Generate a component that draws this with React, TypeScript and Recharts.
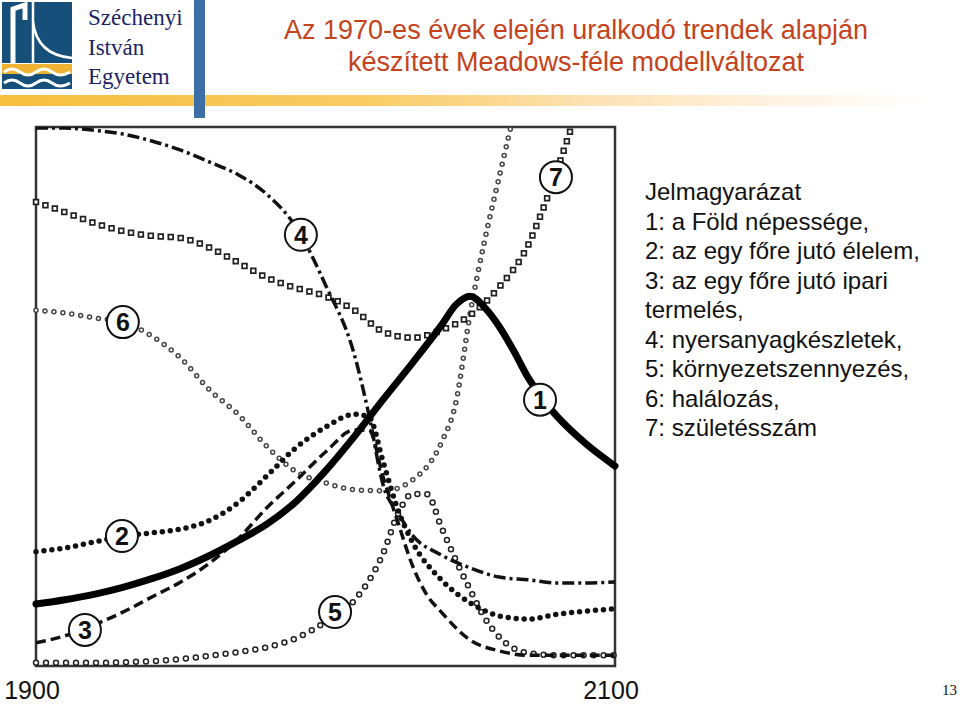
import React from 'react';
import { LineChart, Line, XAxis, YAxis, ReferenceArea, ReferenceDot } from 'recharts';

// [year, value] pairs, value on a 0-100 relative scale
const population: [number, number][] = [
    [1900, 11.5], [1910, 12.3], [1920, 13.3], [1930, 14.6], [1940, 16.2], [1950, 18.1],
    [1960, 20.5], [1970, 23.3], [1980, 26.4], [1990, 30.6], [2000, 36.2], [2010, 42.6],
    [2020, 49.5], [2030, 56.2], [2040, 63.2], [2045, 67], [2050, 68.6], [2055, 66.5],
    [2060, 63], [2065, 58.5], [2070, 53.5], [2075, 49.5], [2080, 46.3], [2090, 41.2], [2100, 37.1],
];
const foodPerCapita: [number, number][] = [
    [1900, 21.2], [1910, 21.9], [1920, 23], [1930, 24.1], [1940, 24.7], [1950, 25.4],
    [1960, 27], [1970, 30.4], [1980, 35.4], [1990, 40.6], [2000, 44.3], [2010, 46.7],
    [2015, 46.2], [2020, 37.7], [2025, 29], [2030, 23], [2040, 16], [2050, 11.7],
    [2060, 9.3], [2070, 8.7], [2080, 9.6], [2090, 10.2], [2100, 10.6],
];
const industryPerCapita: [number, number][] = [
    [1900, 4.3], [1910, 5.6], [1920, 7.6], [1930, 10], [1940, 12.8], [1950, 15.6],
    [1960, 19.1], [1970, 23.7], [1980, 29.5], [1990, 34.5], [2000, 39.7], [2010, 43.8],
    [2015, 43.8], [2020, 34.9], [2025, 26.7], [2030, 18.7], [2035, 13.2], [2040, 10],
    [2050, 4.8], [2060, 2.8], [2070, 2], [2080, 2], [2090, 2], [2100, 2],
];
const resources: [number, number][] = [
    [1900, 99.8], [1910, 99.8], [1920, 99.4], [1930, 98.7], [1940, 97.4], [1950, 95.7],
    [1960, 93.5], [1970, 91.1], [1980, 87.4], [1990, 81.3], [2000, 70.7], [2010, 57.7],
    [2015, 46.6], [2020, 33.4], [2025, 28.4], [2030, 24.3], [2040, 20.6], [2050, 18.2],
    [2060, 16.5], [2070, 16], [2080, 15.4], [2090, 15.4], [2100, 15.6],
];
const pollution: [number, number][] = [
    [1900, 0.6], [1910, 0.6], [1920, 0.6], [1930, 0.7], [1940, 0.9], [1950, 1.3],
    [1960, 1.9], [1970, 2.6], [1980, 3.5], [1990, 5.2], [2000, 8.2], [2010, 12.2],
    [2020, 21], [2025, 28.2], [2030, 31.9], [2035, 31.9], [2040, 25.8], [2045, 19.7],
    [2050, 14.1], [2055, 8.9], [2060, 5.4], [2070, 2.4], [2080, 2], [2090, 2], [2100, 2],
];
const deathRate: [number, number][] = [
    [1900, 66], [1910, 65.5], [1920, 64.6], [1930, 63.8], [1940, 61.2], [1950, 57.1],
    [1960, 51.2], [1970, 46.6], [1980, 40.6], [1990, 36], [2000, 34], [2010, 32.7],
    [2020, 32.5], [2030, 34.5], [2040, 41.4], [2045, 48.8], [2050, 65.5], [2055, 79],
    [2060, 90.7], [2064, 100],
];
const birthRate: [number, number][] = [
    [1900, 86.1], [1910, 84.2], [1920, 82.2], [1930, 80.7], [1940, 79.8], [1950, 79.4],
    [1960, 77.6], [1970, 74.8], [1980, 72], [1990, 70.1], [2000, 68.6], [2010, 66],
    [2020, 62], [2030, 60.9], [2040, 62.3], [2050, 65.1], [2060, 70.3], [2070, 78.1],
    [2075, 84.6], [2080, 92], [2085, 100],
];

// circled series numbers: [number, year, value]
const badges: [string, number, number][] = [
    ['1', 2074.1, 49.4], ['2', 1929.7, 24.1], ['3', 1916.9, 6.7], ['4', 1991.5, 80],
    ['5', 2003.3, 10], ['6', 1930, 63.8], ['7', 2079.6, 90.7],
];

const yearTicks = [1900, 2100];

const legendLines = [
    'Jelmagyarázat',
    '1: a Föld népessége,',
    '2: az egy főre jutó élelem,',
    '3: az egy főre jutó ipari',
    'termelés,',
    '4: nyersanyagkészletek,',
    '5: környezetszennyezés,',
    '6: halálozás,',
    '7: születésszám',
];

const toRows = (pts: [number, number][]) => pts.map(([year, v]) => ({ year, v }));

const Badge = (props: any) => {
    const { cx, cy, label } = props;
    return (
        <g>
            <circle cx={cx} cy={cy} r={16} fill="#fff" stroke="#111" strokeWidth={2} />
            <text x={cx} y={cy + 9} textAnchor="middle" fontSize={25} fontWeight="bold"
                fontFamily="Arial, 'Liberation Sans', sans-serif" fill="#111">{label}</text>
        </g>
    );
};

function Logo() {
    return (
        <svg width={76} height={92} style={{ position: 'absolute', left: 0, top: 0 }}>
            <rect x={2} y={2} width={70} height={61} fill="#16507a" />
            <path d="M13 63 V9 L25 5 V20" stroke="#fff" strokeWidth={5} fill="none" />
            <path d="M33 2 V63" stroke="#fff" strokeWidth={2.5} />
            <path d="M33 22 Q37 55 72 58" stroke="#fff" strokeWidth={2.5} fill="none" />
            <rect x={2} y={64} width={70} height={10} fill="#f0b232" />
            <rect x={2} y={74} width={70} height={15} fill="#16507a" />
            <path d="M4 72 Q12 66 20 72 T36 72 T52 72 T70 72" stroke="#fff" strokeWidth={3} fill="none" />
            <path d="M4 83 Q12 77 20 83 T36 83 T52 83 T70 83" stroke="#fff" strokeWidth={3} fill="none" />
        </svg>
    );
}

export default function App() {
    const sans = "Arial, 'Liberation Sans', sans-serif";
    const serif = "'Times New Roman', 'Liberation Serif', serif";
    return (
        <div style={{ position: 'absolute', left: 0, top: 0, width: 960, height: 707, background: '#fff', overflow: 'hidden' }}>
            <Logo />
            <div style={{ position: 'absolute', left: 88, top: 3, fontFamily: serif, fontSize: 23, lineHeight: '29.5px', color: '#1b1f66' }}>
                Széchenyi<br />István<br />Egyetem
            </div>
            <div style={{ position: 'absolute', left: 0, top: 95, width: 930, height: 11, background: 'linear-gradient(to right, #f5bf3e 0%, #f8cc66 40%, #fde3b8 65%, #fff4e6 85%, #ffffff 100%)' }} />
            <div style={{ position: 'absolute', left: 194, top: 0, width: 11, height: 118, background: '#3d6fa6' }} />
            <div style={{ position: 'absolute', left: 205, top: 14, width: 742, textAlign: 'center', fontFamily: sans, fontSize: 27, lineHeight: '32px', color: '#c4421c' }}>
                Az 1970-es évek elején uralkodó trendek alapján<br />készített Meadows-féle modellváltozat
            </div>

            <div style={{ position: 'absolute', left: 645, top: 177, fontFamily: sans, fontSize: 24, lineHeight: '29.5px', color: '#111' }}>
                {legendLines.map((t) => <div key={t}>{t}</div>)}
            </div>
            <div style={{ position: 'absolute', left: 942, top: 682, fontFamily: serif, fontSize: 15, color: '#111' }}>13</div>

            <div style={{ position: 'absolute', left: 0, top: 0 }}>
                <LineChart width={960} height={707} margin={{ top: 127, right: 345, bottom: 11, left: 36 }}>
                    <XAxis dataKey="year" type="number" domain={[1900, 2100]} ticks={yearTicks}
                        axisLine={false} tickLine={false} tickSize={0} tickMargin={15}
                        height={30} tick={{ fontSize: 25, fill: '#111', fontFamily: sans, dx: -4 }} />
                    <YAxis type="number" domain={[0, 100]} hide allowDataOverflow />

                    <Line data={toRows(pollution)} dataKey="v" type="monotone" stroke="#222" strokeWidth={6.5}
                        strokeDasharray="0 10" strokeLinecap="round" dot={false} isAnimationActive={false} />
                    <Line data={toRows(pollution)} dataKey="v" type="monotone" stroke="#fff" strokeWidth={3.5}
                        strokeDasharray="0 10" strokeLinecap="round" dot={false} isAnimationActive={false} />

                    <Line data={toRows(deathRate)} dataKey="v" type="monotone" stroke="#444" strokeWidth={5.5}
                        strokeDasharray="0 9" strokeLinecap="round" dot={false} isAnimationActive={false} />
                    <Line data={toRows(deathRate)} dataKey="v" type="monotone" stroke="#fff" strokeWidth={2.5}
                        strokeDasharray="0 9" strokeLinecap="round" dot={false} isAnimationActive={false} />

                    <Line data={toRows(birthRate)} dataKey="v" type="monotone" stroke="#222" strokeWidth={6.5}
                        strokeDasharray="0 10" strokeLinecap="square" dot={false} isAnimationActive={false} />
                    <Line data={toRows(birthRate)} dataKey="v" type="monotone" stroke="#fff" strokeWidth={3}
                        strokeDasharray="0 10" strokeLinecap="square" dot={false} isAnimationActive={false} />

                    <Line data={toRows(resources)} dataKey="v" type="monotone" stroke="#111" strokeWidth={3.5}
                        strokeDasharray="12 4 3 4" dot={false} isAnimationActive={false} />
                    <Line data={toRows(industryPerCapita)} dataKey="v" type="monotone" stroke="#111" strokeWidth={3.5}
                        strokeDasharray="10 5" dot={false} isAnimationActive={false} />
                    <Line data={toRows(foodPerCapita)} dataKey="v" type="monotone" stroke="#111" strokeWidth={5.5}
                        strokeDasharray="0 8" strokeLinecap="round" dot={false} isAnimationActive={false} />
                    <Line data={toRows(population)} dataKey="v" type="monotone" stroke="#000" strokeWidth={7}
                        strokeLinecap="round" dot={false} isAnimationActive={false} />

                    <ReferenceArea x1={1900} x2={2100} y1={0} y2={100} fill="none" stroke="#333" strokeWidth={2.5} />
                    {badges.map(([label, year, v]) => (
                        <ReferenceDot key={label} x={year} y={v} r={16}
                            shape={(p: any) => <Badge {...p} label={label} />} />
                    ))}
                </LineChart>
            </div>
        </div>
    );
}
